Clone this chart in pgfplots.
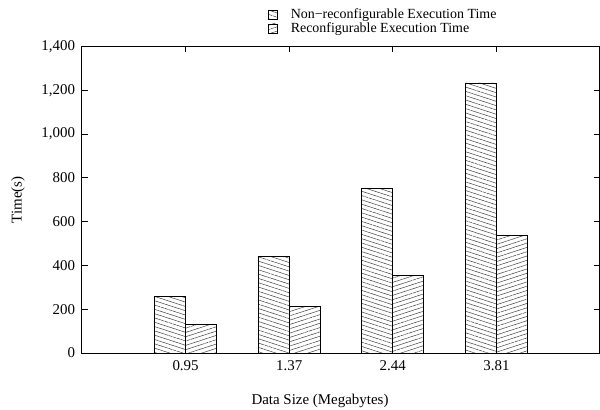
\documentclass[border=0pt]{standalone}
\usepackage{fontspec}
\setmainfont{Liberation Serif}
\usepackage{pgfplots}
\pgfplotsset{compat=1.18}
\usetikzlibrary{patterns.meta}

\begin{document}
\begin{tikzpicture}
\begin{axis}[
    scale only axis,
    width=518bp, height=306.6bp,
    xmin=0, xmax=5,
    ymin=0, ymax=1400,
    xtick={1,2,3,4},
    xticklabels={0.95,1.37,2.44,3.81},
    ytick={0,200,...,1400},
    scaled y ticks=false,
    /pgf/number format/assume math mode=true,
    font=\fontsize{15}{17}\selectfont,
    tick align=inside,
    major tick length=6bp,
    tick style={black, line width=0.8bp},
    axis line style={black, line width=1bp},
    yticklabel style={xshift=-3.5bp},
    xticklabel style={yshift=-4bp},
    xlabel={Data Size (Megabytes)},
    ylabel={Time(s)},
    xlabel style={at={(axis description cs:0.4595,-0.157)}, anchor=center},
    ylabel style={at={(axis description cs:-0.1236,0.5)}, anchor=center},
    legend image code/.code={\draw[#1, line width=0.6bp] (0bp,-4.5bp) rectangle (9bp,4.5bp);},
    legend cell align=left,
    legend style={at={(axis description cs:0.359,1.123)}, anchor=north west,
        draw=none, fill=none, inner sep=0pt, row sep=2.5bp,
        font=\fontsize{14}{15}\selectfont,
        nodes={inner sep=0bp},
        /tikz/every odd column/.append style={column sep=13bp}},
]
\addplot[ybar, bar width=0.3, bar shift=-0.15, draw=black, line width=0.8bp,
    pattern={Lines[angle=-18, distance=4.1bp, line width=0.5bp]}, pattern color=black!75]
    coordinates {(1,257) (2,441) (3,753) (4,1233)};
\addlegendentry{Non−reconfigurable Execution Time}
\addplot[ybar, bar width=0.3, bar shift=0.15, draw=black, line width=0.8bp,
    pattern={Lines[angle=18, distance=4.1bp, line width=0.5bp]}, pattern color=black!75]
    coordinates {(1,132) (2,211) (3,353) (4,536)};
\addlegendentry{Reconfigurable Execution Time}
\end{axis}
\pgfresetboundingbox
\useasboundingbox (-82bp,-57bp) rectangle (518bp,353bp);
\end{tikzpicture}
\end{document}
